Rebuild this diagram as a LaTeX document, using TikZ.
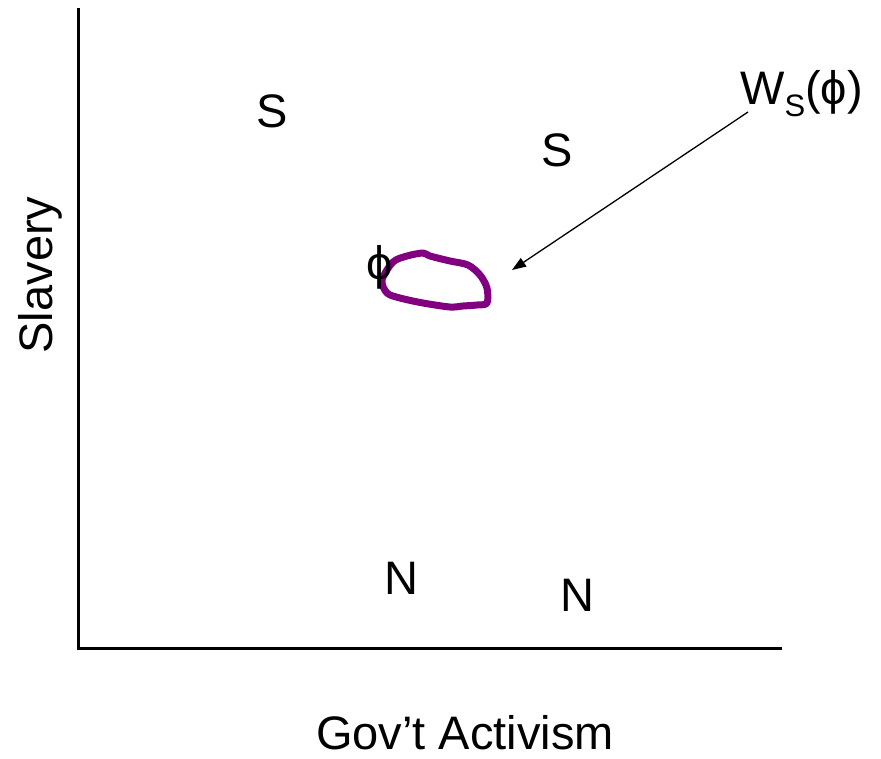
\documentclass[tikz,border=0pt]{standalone}
\usepackage{fontspec}
\setmainfont{Liberation Sans}
\usetikzlibrary{arrows.meta}
\definecolor{blob}{RGB}{128,0,128}

\begin{document}
\begin{tikzpicture}[x=1pt,y=-1pt,>={Triangle[length=14pt,width=10pt]},
  lbl/.style={font=\fontsize{47}{50}\selectfont,inner sep=0pt}]
  \useasboundingbox (0,0) rectangle (881,758);
  \coordinate (O) at (78,648); \coordinate (Y) at (78,8); \coordinate (X) at (782,648);
  \draw[line width=3pt] (Y)--(O)--(X);
  \foreach \n/\l/\x/\y in {s1/S/272/111,s2/S/557/150,n1/N/401/578,n2/N/577/595} {\node[lbl] (\n) at (\x,\y) {\l};}
  \draw[blob,line width=7pt,line join=round] plot[smooth cycle,tension=0.5] coordinates {(382,280) (393,262) (407,256) (423,253) (430,256) (450,261) (468,265) (480,275) (487,288) (487,303) (477,305) (463,306) (450,307) (423,303) (400,298) (387,293)};
  \node[lbl] (phi) at (380,267) {ϕ};
  \node[lbl,anchor=base west] (ws) at (740,104) {W\raisebox{-12pt}{\fontsize{31}{31}\selectfont S}(ϕ)};
  \coordinate (tail) at (748,112); \coordinate (tip) at (512,270);
  \draw[->,line width=1.3pt] (tail)--(tip);
  \node[lbl,rotate=90] (yl) at (40,275) {Slavery};
  \node[lbl] (xl) at (465,733) {Gov’t Activism};
\end{tikzpicture}
\end{document}
